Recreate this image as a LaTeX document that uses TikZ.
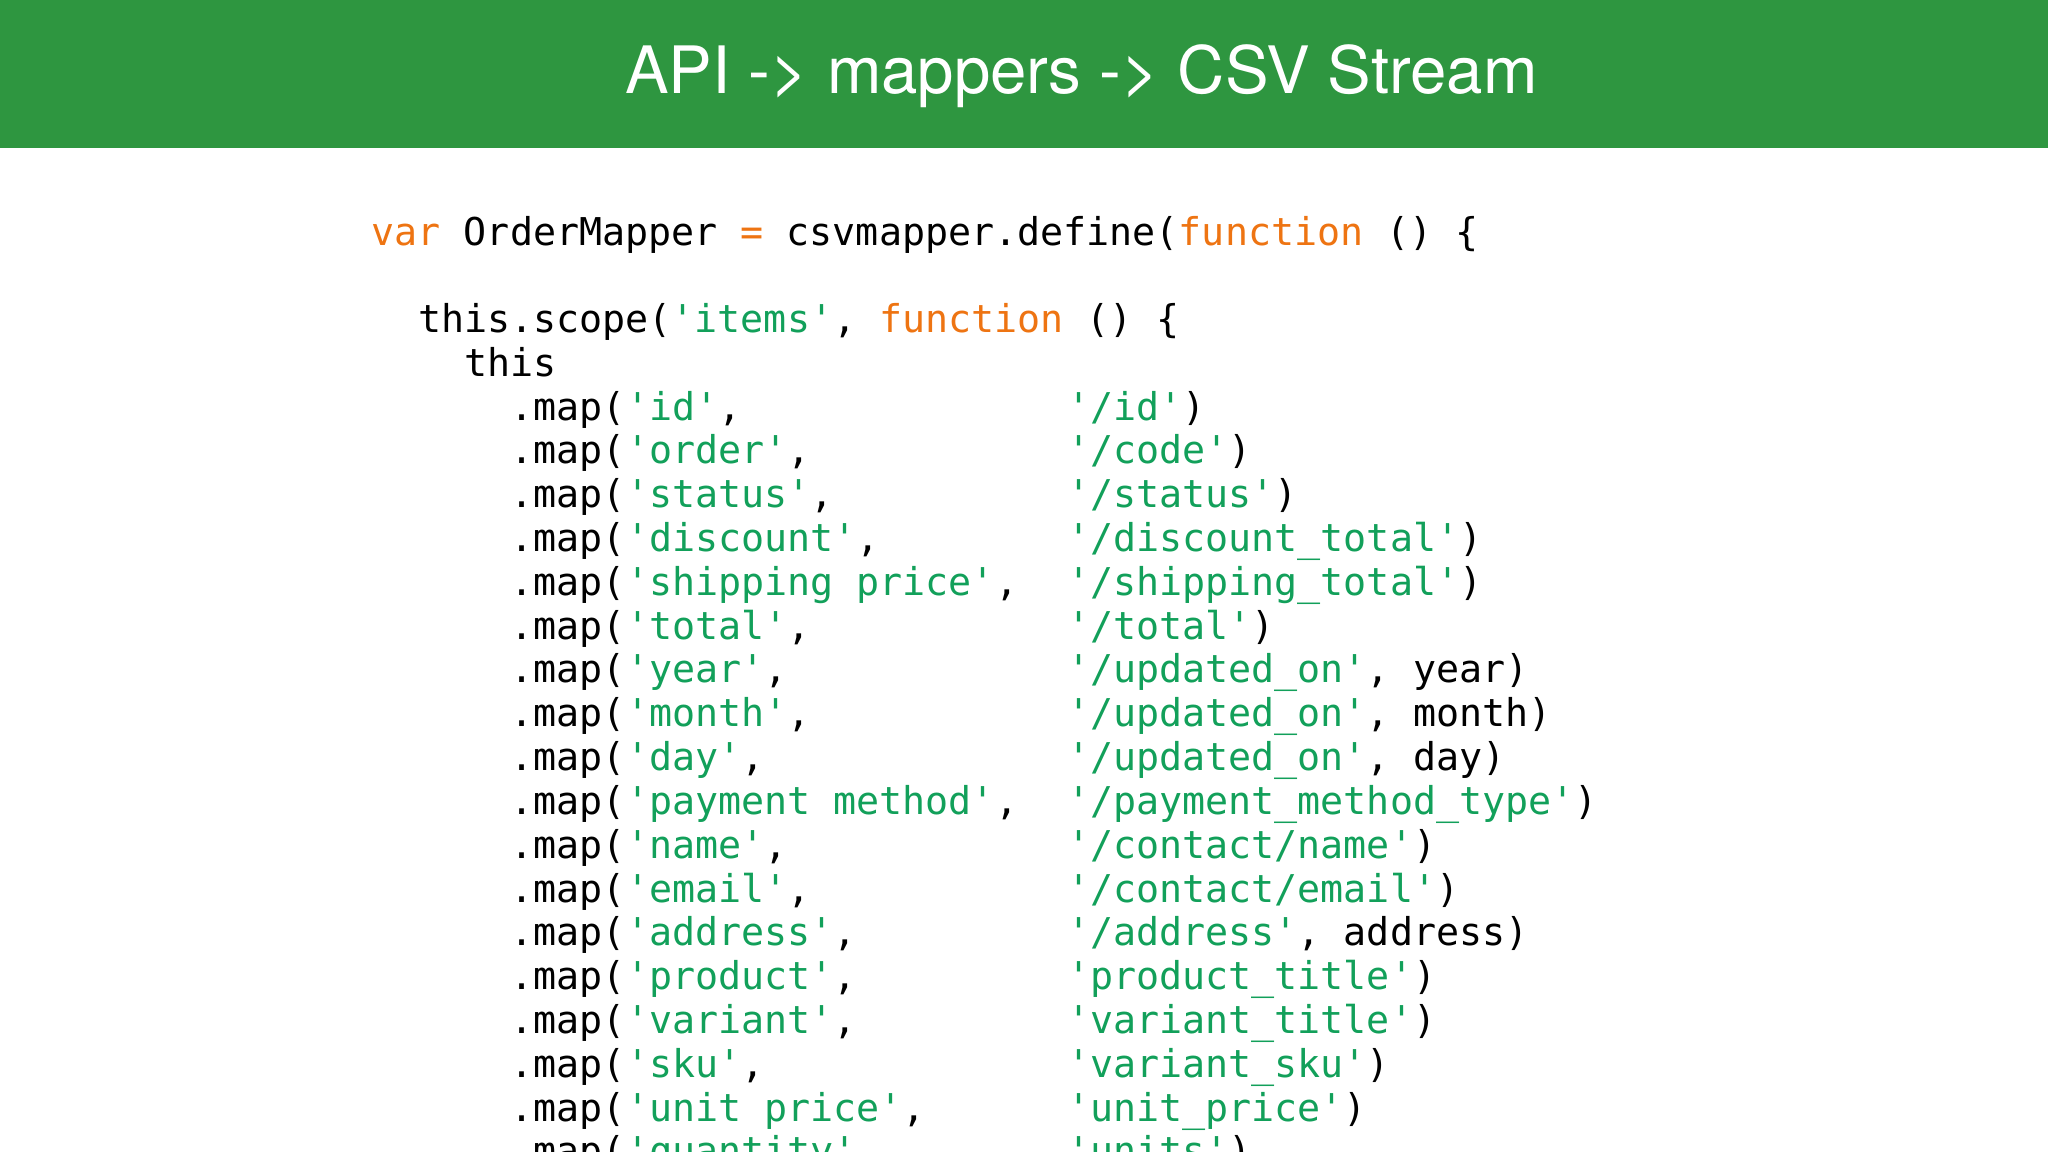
\documentclass[tikz,border=0pt]{standalone}
\usepackage{fontspec}
\setmainfont{TeX Gyre Heros}
\setmonofont{DejaVu Sans Mono}
\definecolor{hdr}{HTML}{2E9640}
\definecolor{kw}{HTML}{EE7412}
\definecolor{st}{HTML}{12A05A}
\newcommand{\G}[1]{\textcolor{st}{#1}}
\newcommand{\K}[1]{\textcolor{kw}{#1}}
\begin{document}
\begin{tikzpicture}[x=0.013061cm,y=-0.013061cm,
  code/.style={anchor=mid west,inner sep=0pt,font=\ttfamily\fontsize{10.9}{13}\selectfont,text=black}]
\useasboundingbox (0,0) rectangle (1568,882);
\clip (0,0) rectangle (1568,882);
\fill[white] (0,0) rectangle (1568,882);
\fill[hdr] (0,0) rectangle (1568,113);
\node[text=white,font=\fontsize{18.6}{22}\selectfont] (title) at (828,58) {API -> mappers -> CSV Stream};
\newcommand{\cx}[1]{284+#1*17.75}
\node[code] (h1) at (284,181) {\K{var} OrderMapper \K{=} csvmapper.define(\K{function} () \{};
\node[code] (h2) at (\cx{2},247.5) {this.scope(\G{'items'}, \K{function} () \{};
\node[code] (h3) at (\cx{4},281) {this};
\foreach \a/\b [count=\i] in {
 {\G{'id'},}/{\G{'/id'})},
 {\G{'order'},}/{\G{'/code'})},
 {\G{'status'},}/{\G{'/status'})},
 {\G{'discount'},}/{\G{'/discount\_total'})},
 {\G{'shipping price'},}/{\G{'/shipping\_total'})},
 {\G{'total'},}/{\G{'/total'})},
 {\G{'year'},}/{\G{'/updated\_on'}, year)},
 {\G{'month'},}/{\G{'/updated\_on'}, month)},
 {\G{'day'},}/{\G{'/updated\_on'}, day)},
 {\G{'payment method'},}/{\G{'/payment\_method\_type'})},
 {\G{'name'},}/{\G{'/contact/name'})},
 {\G{'email'},}/{\G{'/contact/email'})},
 {\G{'address'},}/{\G{'/address'}, address)},
 {\G{'product'},}/{\G{'product\_title'})},
 {\G{'variant'},}/{\G{'variant\_title'})},
 {\G{'sku'},}/{\G{'variant\_sku'})},
 {\G{'unit price'},}/{\G{'unit\_price'})},
 {\G{'quantity'},}/{\G{'units'})}}
{
 \node[code] (m\i) at (\cx{6},281+\i*33.55) {.map(\a};
 \node[code] (v\i) at (\cx{30},281+\i*33.55) {\b};
}
\end{tikzpicture}
\end{document}
